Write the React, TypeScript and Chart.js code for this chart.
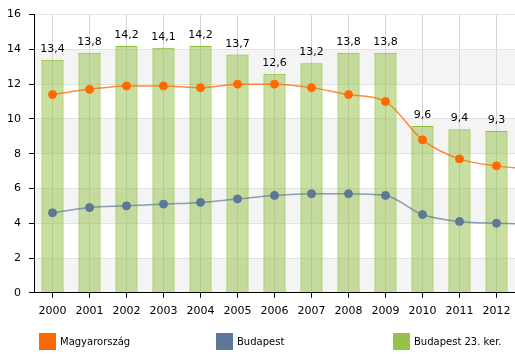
import React, { useEffect, useRef } from "react";
import { Chart, registerables } from "chart.js";

Chart.register(...registerables);

const years = ["2000", "2001", "2002", "2003", "2004", "2005", "2006", "2007", "2008", "2009", "2010", "2011", "2012", "2013"];
const lastShownIndex = 12;
const magyarorszag = [11.4, 11.7, 11.9, 11.9, 11.8, 12.0, 12.0, 11.8, 11.4, 11.0, 8.8, 7.7, 7.3, 7.1];
const budapest = [4.6, 4.9, 5.0, 5.1, 5.2, 5.4, 5.6, 5.7, 5.7, 5.6, 4.5, 4.1, 4.0, 3.95];
const ker23 = [13.4, 13.8, 14.2, 14.1, 14.2, 13.7, 12.6, 13.2, 13.8, 13.8, 9.6, 9.4, 9.3, null];
const yTicksMin = 0;
const yTicksMax = 16;
const yStep = 2;

const FONT = "'DejaVu Sans', Verdana, sans-serif";

const legendItems = [
  { label: "Magyarország", color: "#ff6a00" },
  { label: "Budapest", color: "#5d7796" },
  { label: "Budapest 23. ker.", color: "#97c14a" },
];

const bandsPlugin = {
  id: "bands",
  beforeDraw(chart: any) {
    const { ctx, chartArea } = chart;
    const y = chart.scales.y;
    ctx.save();
    ctx.fillStyle = "#f4f4f4";
    for (let v = yTicksMin; v < yTicksMax; v += yStep * 2) {
      const top = y.getPixelForValue(v + yStep);
      const bottom = y.getPixelForValue(v);
      ctx.fillRect(chartArea.left, top, chartArea.right - chartArea.left, bottom - top);
    }
    ctx.restore();
  },
};

const labelsPlugin = {
  id: "barLabels",
  afterDatasetsDraw(chart: any) {
    const { ctx } = chart;
    const meta = chart.getDatasetMeta(2);
    ctx.save();
    ctx.font = `11px ${FONT}`;
    ctx.fillStyle = "#000";
    ctx.textAlign = "center";
    ctx.textBaseline = "alphabetic";
    meta.data.forEach((bar: any, i: number) => {
      const v = ker23[i];
      if (v == null || i > lastShownIndex) return;
      ctx.fillText(v.toFixed(1).replace(".", ","), bar.x, bar.y - 8);
    });
    ctx.restore();
  },
};

export default function App() {
  const ref = useRef<HTMLCanvasElement>(null);
  useEffect(() => {
    document.body.style.margin = "0";
    const chart = new Chart(ref.current!, {
      type: "bar",
      data: {
        labels: years,
        datasets: [
          {
            type: "line",
            label: "Magyarország",
            data: magyarorszag,
            borderColor: "rgba(255,110,10,0.8)",
            backgroundColor: "#ff6a00",
            pointBackgroundColor: "#ff6a00",
            pointBorderColor: "#ff6a00",
            pointRadius: 4,
            pointBorderWidth: 1,
            borderWidth: 1.5,
            cubicInterpolationMode: "monotone",
            order: 0,
          } as any,
          {
            type: "line",
            label: "Budapest",
            data: budapest,
            borderColor: "rgba(93,119,150,0.7)",
            backgroundColor: "#5d7796",
            pointBackgroundColor: "#5d7796",
            pointBorderColor: "#5d7796",
            pointRadius: 4,
            pointBorderWidth: 1,
            borderWidth: 1.5,
            cubicInterpolationMode: "monotone",
            order: 1,
          } as any,
          {
            type: "bar",
            label: "Budapest 23. ker.",
            data: ker23,
            backgroundColor: "rgba(148,192,70,0.5)",
            borderColor: "#8cc23a",
            borderWidth: 1,
            barPercentage: 0.6,
            categoryPercentage: 1,
            order: 2,
          } as any,
        ],
      },
      options: {
        animation: false,
        responsive: false,
        maintainAspectRatio: false,
        layout: { autoPadding: false, padding: { top: 13, bottom: 29, left: 0, right: 0 } },
        plugins: { legend: { display: false }, tooltip: { enabled: false } },
        scales: {
          x: {
            type: "category",
            offset: true,
            grid: { offset: false, color: "#d6d6d6", tickColor: "#000", tickLength: 5 },
            border: { color: "#000", width: 1 },
            ticks: { color: "#000", font: { family: FONT, size: 11 }, padding: 7, maxRotation: 0, autoSkip: false },
            afterDataLimits(scale: any) {
              scale.max = lastShownIndex;
            },
            afterFit(scale: any) {
              scale.paddingRight = 0;
              scale.paddingLeft = 0;
            },
          },
          y: {
            min: yTicksMin,
            max: yTicksMax,
            grid: { color: "#e2e2e2", tickColor: "#000", tickLength: 5 },
            border: { color: "#000", width: 1 },
            ticks: { stepSize: yStep, color: "#000", font: { family: FONT, size: 11 }, padding: 8 },
            afterFit(scale: any) {
              scale.width = 34;
            },
          },
        },
      },
      plugins: [bandsPlugin, labelsPlugin],
    });
    return () => chart.destroy();
  }, []);

  return (
    <div style={{ position: "absolute", left: 0, top: 0, width: 515, height: 354, background: "#fff" }}>
      <canvas ref={ref} width={515} height={354} style={{ display: "block" }} />
      {legendItems.map((item) => (
        <div
          key={item.label}
          style={{
            position: "absolute",
            left: 39 + legendItems.indexOf(item) * 177,
            top: 333,
            height: 17,
            display: "flex",
            alignItems: "center",
            fontFamily: FONT,
            fontSize: 10,
            color: "#000",
            whiteSpace: "nowrap",
          }}
        >
          <span style={{ display: "inline-block", width: 17, height: 17, background: item.color, marginRight: 4 }} />
          <span>{item.label}</span>
        </div>
      ))}
    </div>
  );
}
